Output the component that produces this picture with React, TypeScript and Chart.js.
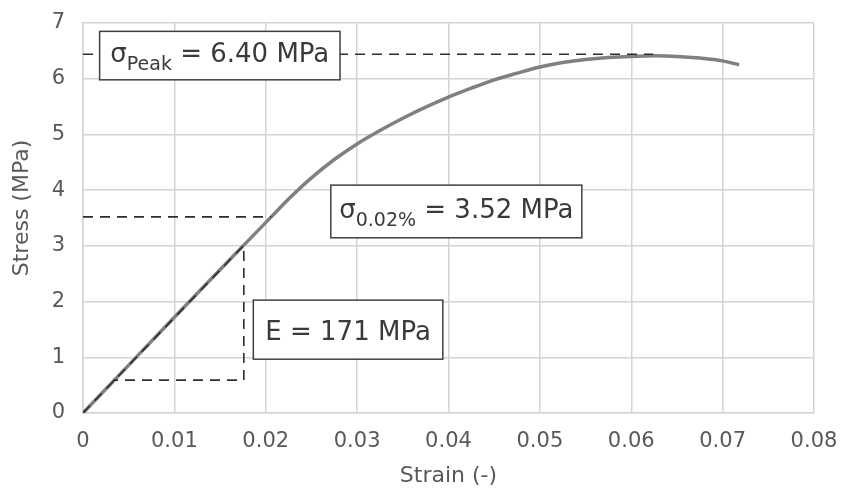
import React, { useEffect, useRef } from 'react';
import { Chart, registerables } from 'chart.js';

Chart.register(...registerables);

// ---- data ----
const strain = [0, 0.005, 0.01, 0.015, 0.018, 0.0206, 0.0225, 0.025, 0.0275, 0.03, 0.0325, 0.035, 0.0375, 0.04, 0.0425, 0.045, 0.0475, 0.05, 0.0525, 0.055, 0.0575, 0.06, 0.0625, 0.065, 0.0675, 0.07, 0.0718];
const stress = [0, 0.86, 1.72, 2.57, 3.08, 3.52, 3.84, 4.22, 4.55, 4.83, 5.07, 5.29, 5.49, 5.67, 5.83, 5.98, 6.1, 6.21, 6.29, 6.345, 6.38, 6.4, 6.41, 6.4, 6.37, 6.32, 6.25];

const peakLineX = [0, 0.0624];
const peakLineY = [6.44, 6.44];
const yieldLineX = [0, 0.0206];
const yieldLineY = [3.52, 3.52];
const modulusX = [0, 0.0176, 0.0176, 0.0033];
const modulusY = [0, 3.01, 0.59, 0.59];

const xTickMin = 0;
const xTickMax = 0.08;
const xTickStep = 0.01;
const yTickMin = 0;
const yTickMax = 7;
const yTickStep = 1;

const xTitle = 'Strain (-)';
const yTitle = 'Stress (MPa)';

// annotation labels: segments of text (main / subscript), anchored in data units
const labelPeak = [
  { t: 'σ', sub: false },
  { t: 'Peak', sub: true },
  { t: ' = 6.40 MPa', sub: false },
];
const labelYield = [
  { t: 'σ', sub: false },
  { t: '0.02%', sub: true },
  { t: ' = 3.52 MPa', sub: false },
];
const labelModulus = [{ t: 'E = 171 MPa', sub: false }];

const boxes = [
  { segs: labelPeak, x1: 0.00182, x2: 0.02813, y1: 6.85, y2: 5.98, dy: 6 },
  { segs: labelYield, x1: 0.02712, x2: 0.05459, y1: 4.09, y2: 3.145, dy: 7 },
  { segs: labelModulus, x1: 0.01864, x2: 0.03938, y1: 2.026, y2: 0.966, dy: 10 },
];

const FONT = '"DejaVu Sans", "Liberation Sans", Arial, sans-serif';
const TXT = '#595959';
const GRID = '#d4d4d4';

const pts = (xs: number[], ys: number[]) => xs.map((v, i) => ({ x: v, y: ys[i] }));

const overlayPlugin = {
  id: 'overlay',
  afterDatasetsDraw(chart: any) {
    const { ctx, scales } = chart;
    const x = scales.x;
    const y = scales.y;
    ctx.save();
    for (const b of boxes) {
      const l = x.getPixelForValue(b.x1);
      const r = x.getPixelForValue(b.x2);
      const t = y.getPixelForValue(b.y1);
      const bt = y.getPixelForValue(b.y2);
      ctx.fillStyle = '#ffffff';
      ctx.fillRect(l, t, r - l, bt - t);
      ctx.strokeStyle = '#404040';
      ctx.lineWidth = 1.5;
      ctx.strokeRect(l, t, r - l, bt - t);
      const mainF = `26px ${FONT}`;
      const subF = `19px ${FONT}`;
      let w = 0;
      const widths: number[] = [];
      for (const s of b.segs) {
        ctx.font = s.sub ? subF : mainF;
        const m = ctx.measureText(s.t).width;
        widths.push(m);
        w += m;
      }
      let cx = (l + r) / 2 - w / 2;
      const base = (t + bt) / 2 + b.dy;
      ctx.fillStyle = '#3a3a3a';
      ctx.textBaseline = 'alphabetic';
      ctx.textAlign = 'left';
      b.segs.forEach((s, i) => {
        ctx.font = s.sub ? subF : mainF;
        ctx.fillText(s.t, cx, s.sub ? base + 8 : base);
        cx += widths[i];
      });
    }
    // y axis title
    const ya = scales.y;
    ctx.translate(22.5, (ya.top + ya.bottom) / 2 - 10);
    ctx.rotate(-Math.PI / 2);
    ctx.font = `22px ${FONT}`;
    ctx.fillStyle = TXT;
    ctx.textAlign = 'center';
    ctx.textBaseline = 'middle';
    ctx.fillText(yTitle, 0, 0);
    ctx.restore();
  },
};

const noPad = (s: any) => {
  s.paddingTop = 0;
  s.paddingBottom = 0;
  s.paddingLeft = 0;
  s.paddingRight = 0;
};

export default function App() {
  const ref = useRef<HTMLCanvasElement | null>(null);
  useEffect(() => {
    if (!ref.current) return;
    const dashed = {
      showLine: true,
      borderColor: '#2e2e2e',
      borderWidth: 1.6,
      borderDash: [10, 7],
      pointRadius: 0,
      fill: false,
      order: 1,
    };
    const chart = new Chart(ref.current, {
      type: 'scatter',
      data: {
        datasets: [
          { label: 'peak', data: pts(peakLineX, peakLineY), ...dashed },
          { label: 'yield', data: pts(yieldLineX, yieldLineY), ...dashed },
          { label: 'modulus', data: pts(modulusX, modulusY), ...dashed },
          {
            label: 'curve',
            data: pts(strain, stress),
            showLine: true,
            borderColor: '#808080',
            borderWidth: 3.5,
            pointRadius: 0,
            cubicInterpolationMode: 'monotone',
            fill: false,
            order: 2,
          },
        ],
      } as any,
      options: {
        animation: false,
        responsive: true,
        maintainAspectRatio: false,
        layout: { padding: { left: 0, top: 23, right: 28, bottom: 0 } },
        plugins: { legend: { display: false }, tooltip: { enabled: false } },
        scales: {
          x: {
            type: 'linear',
            min: xTickMin,
            max: xTickMax,
            ticks: {
              stepSize: xTickStep,
              maxRotation: 0,
              padding: 16,
              color: TXT,
              font: { family: FONT, size: 21 },
              callback: (v: any) => (Math.abs(v) < 1e-9 ? '0' : Number(v).toFixed(2)),
            },
            grid: { color: GRID, lineWidth: 1.5, drawTicks: false },
            border: { color: GRID, width: 1.5 },
            title: {
              display: true,
              text: xTitle,
              color: TXT,
              font: { family: FONT, size: 22 },
              padding: { top: 0, bottom: 0 },
            },
            afterFit: (s: any) => {
              s.height = 76;
              noPad(s);
            },
          },
          y: {
            type: 'linear',
            min: yTickMin,
            max: yTickMax,
            ticks: {
              stepSize: yTickStep,
              padding: 18,
              color: TXT,
              font: { family: FONT, size: 21 },
            },
            grid: { color: GRID, lineWidth: 1.5, drawTicks: false },
            border: { color: GRID, width: 1.5 },
            title: { display: false },
            afterFit: (s: any) => {
              s.width = 83;
              noPad(s);
            },
          },
        },
      } as any,
      plugins: [overlayPlugin],
    });
    return () => chart.destroy();
  }, []);
  return (
    <div style={{ position: 'absolute', left: 0, top: 0, width: 842, height: 489, background: '#fff' }}>
      <canvas ref={ref} width={842} height={489} />
    </div>
  );
}
